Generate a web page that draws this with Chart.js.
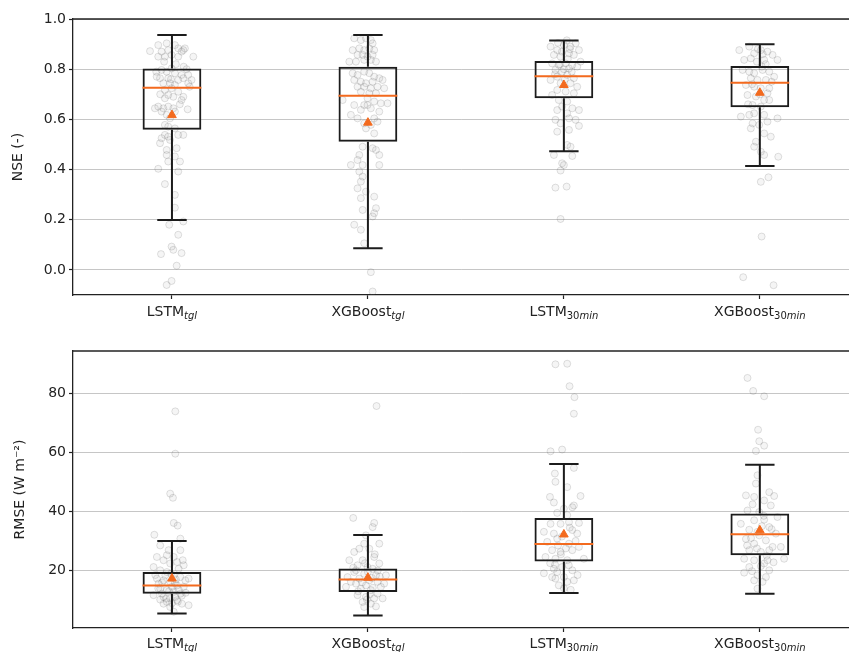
<!DOCTYPE html>
<html><head><meta charset="utf-8">
<script src="https://cdn.jsdelivr.net/npm/chart.js@4"></script>
<style>
html,body{margin:0;padding:0;background:#fff;overflow:hidden;width:849px;height:652px;}
#c1{position:absolute;left:0;top:0;}
#c2{position:absolute;left:0;top:330px;}
</style></head><body>
<canvas id="c1" width="849" height="330"></canvas>
<canvas id="c2" width="849" height="322"></canvas>
<script>
// ---------- categories ----------
const categories = ['LSTM', 'XGBoost', 'LSTM', 'XGBoost'];
const categorySubs = ['tgl', 'tgl', '30min', '30min'];

// ---------- NSE (top panel) ----------
const nseTicks = [0.0, 0.2, 0.4, 0.6, 0.8, 1.0];
const nseWhiskerLow  = [0.199, 0.086, 0.473, 0.414];
const nseQ1          = [0.559, 0.511, 0.684, 0.648];
const nseMedian      = [0.726, 0.694, 0.772, 0.746];
const nseQ3          = [0.803, 0.810, 0.833, 0.813];
const nseWhiskerHigh = [0.936, 0.936, 0.914, 0.899];
const nseMean        = [0.617, 0.587, 0.737, 0.706];

// individual catchment points: [horizontal jitter, value]
const nseLSTMtgl = [[-0.112,0.872],[-0.070,0.896],[-0.053,0.870],[-0.027,0.903],[-0.019,0.876],[0.015,0.896],[0.032,0.883],[0.058,0.876],[0.066,0.883],[0.109,0.850],[-0.070,0.850],[-0.036,0.850],[-0.002,0.857],[0.032,0.850],[0.049,0.870],[-0.053,0.797],[-0.027,0.790],[-0.002,0.803],[0.015,0.784],[0.049,0.777],[0.083,0.777],[-0.078,0.770],[-0.061,0.764],[-0.019,0.764],[0.032,0.757],[0.058,0.764],[0.100,0.757],[-0.044,0.744],[-0.010,0.744],[0.015,0.737],[0.083,0.744],[-0.036,0.717],[-0.002,0.724],[0.032,0.710],[-0.019,0.697],[0.007,0.690],[0.058,0.690],[-0.036,0.684],[0.049,0.677],[-0.070,0.651],[-0.044,0.644],[-0.019,0.651],[0.007,0.644],[-0.087,0.644],[-0.053,0.631],[0.015,0.631],[-0.027,0.618],[-0.010,0.604],[-0.036,0.578],[-0.019,0.571],[0.015,0.564],[-0.036,0.538],[0.032,0.538],[0.058,0.538],[-0.019,0.531],[-0.053,0.525],[-0.061,0.505],[-0.010,0.518],[-0.027,0.478],[0.024,0.485],[-0.027,0.458],[0.015,0.452],[0.041,0.432],[-0.019,0.432],[-0.070,0.403],[0.032,0.392],[-0.036,0.342],[0.015,0.299],[0.015,0.248],[-0.014,0.180],[0.058,0.193],[0.032,0.140],[-0.002,0.093],[-0.056,0.063],[0.007,0.080],[0.049,0.067],[0.024,0.017],[-0.002,-0.044],[-0.027,-0.060],[0.075,0.800],[-0.080,0.790],[0.090,0.730],[-0.060,0.700],[0.040,0.660],[0.080,0.640],[-0.005,0.760],[0.020,0.820],[-0.040,0.830],[0.060,0.810]];
const nseXGBtgl = [[-0.070,0.923],[-0.036,0.916],[-0.010,0.923],[0.015,0.916],[0.024,0.903],[-0.078,0.876],[-0.044,0.883],[-0.019,0.876],[0.007,0.883],[0.032,0.876],[-0.053,0.857],[-0.027,0.857],[-0.002,0.850],[0.024,0.857],[-0.095,0.830],[-0.061,0.830],[-0.019,0.837],[0.015,0.837],[0.041,0.830],[-0.078,0.784],[-0.053,0.777],[-0.019,0.790],[0.007,0.784],[0.032,0.770],[0.058,0.764],[-0.070,0.757],[-0.036,0.750],[-0.010,0.744],[0.024,0.750],[0.075,0.757],[-0.053,0.730],[-0.019,0.730],[0.015,0.724],[0.049,0.730],[0.083,0.724],[-0.036,0.710],[0.007,0.704],[0.041,0.704],[-0.002,0.684],[0.032,0.671],[0.066,0.664],[-0.019,0.657],[-0.002,0.657],[0.100,0.664],[-0.129,0.677],[-0.070,0.657],[0.015,0.644],[0.058,0.631],[-0.036,0.638],[-0.087,0.618],[-0.053,0.604],[0.032,0.604],[-0.019,0.584],[0.015,0.578],[0.049,0.591],[-0.010,0.564],[0.032,0.544],[-0.027,0.491],[0.024,0.485],[0.041,0.478],[-0.044,0.458],[0.058,0.458],[-0.053,0.438],[-0.087,0.418],[-0.027,0.418],[0.058,0.418],[-0.044,0.392],[-0.027,0.372],[-0.036,0.352],[-0.053,0.325],[-0.010,0.312],[-0.036,0.286],[0.032,0.292],[-0.027,0.239],[0.041,0.246],[0.024,0.213],[0.032,0.226],[-0.070,0.180],[-0.036,0.160],[-0.019,0.106],[0.015,-0.009],[0.024,-0.086]];
const nseLSTM30 = [[-0.068,0.890],[-0.034,0.876],[0.000,0.896],[0.034,0.890],[0.060,0.903],[0.077,0.876],[-0.051,0.857],[-0.017,0.850],[0.026,0.863],[0.051,0.857],[-0.060,0.823],[-0.026,0.817],[0.009,0.823],[0.043,0.817],[0.085,0.830],[-0.043,0.797],[-0.009,0.790],[0.026,0.803],[0.068,0.810],[-0.034,0.770],[-0.068,0.757],[0.017,0.777],[0.051,0.764],[-0.017,0.744],[0.034,0.744],[0.068,0.730],[-0.034,0.717],[0.009,0.711],[0.051,0.704],[-0.060,0.697],[-0.026,0.677],[0.017,0.671],[-0.009,0.651],[-0.034,0.637],[0.043,0.644],[0.077,0.637],[0.017,0.624],[-0.043,0.598],[0.026,0.604],[0.060,0.598],[-0.017,0.584],[0.077,0.574],[0.026,0.558],[-0.034,0.551],[0.017,0.498],[0.034,0.491],[-0.051,0.458],[0.043,0.454],[-0.009,0.425],[0.000,0.418],[-0.017,0.396],[-0.043,0.328],[0.014,0.332],[-0.017,0.203],[0.000,0.800],[-0.020,0.820],[0.020,0.840],[-0.045,0.780],[0.040,0.790],[0.005,0.760],[-0.010,0.870],[0.030,0.880],[-0.030,0.905],[0.015,0.915]];
const nseXGB30 = [[-0.105,0.876],[-0.054,0.890],[-0.029,0.863],[0.005,0.876],[0.039,0.870],[-0.080,0.837],[-0.046,0.843],[0.022,0.837],[0.065,0.857],[0.090,0.837],[-0.088,0.797],[-0.054,0.790],[-0.029,0.784],[0.014,0.797],[0.048,0.790],[-0.046,0.764],[-0.012,0.757],[0.031,0.757],[0.073,0.770],[-0.071,0.737],[-0.029,0.730],[0.005,0.724],[0.048,0.724],[-0.063,0.697],[-0.020,0.691],[0.039,0.704],[0.022,0.677],[0.048,0.677],[-0.037,0.657],[0.005,0.651],[-0.097,0.611],[-0.054,0.618],[-0.029,0.624],[0.022,0.618],[0.090,0.604],[-0.037,0.584],[-0.003,0.578],[0.039,0.591],[-0.046,0.564],[0.056,0.531],[0.022,0.544],[-0.020,0.511],[-0.029,0.491],[0.005,0.471],[0.022,0.458],[0.094,0.451],[0.005,0.351],[0.044,0.369],[0.009,0.133],[-0.085,-0.029],[0.070,-0.061],[0.010,0.810],[-0.015,0.830],[0.030,0.820],[-0.040,0.740],[0.060,0.750],[0.000,0.700],[-0.060,0.660],[0.015,0.860],[-0.010,0.880]];

// ---------- RMSE (bottom panel) ----------
const rmseTicks = [20, 40, 60, 80];
const rmseWhiskerLow  = [5.5, 4.8, 12.4, 12.2];
const rmseQ1          = [12.2, 12.8, 23.1, 25.2];
const rmseMedian      = [15.0, 17.0, 29.0, 32.3];
const rmseQ3          = [19.5, 20.7, 37.8, 39.3];
const rmseWhiskerHigh = [30.0, 32.0, 56.0, 55.8];
const rmseMean        = [17.3, 17.6, 32.2, 33.6];

const rmseLSTMtgl = [[0.017,73.8],[0.017,59.5],[-0.009,46.0],[0.005,44.6],[0.009,36.1],[0.029,35.2],[-0.090,32.1],[0.043,30.8],[-0.060,28.5],[-0.017,26.9],[0.043,26.9],[-0.026,25.2],[0.009,24.6],[-0.077,24.6],[-0.043,23.5],[-0.009,22.4],[0.026,22.9],[0.060,21.8],[-0.094,21.2],[-0.060,20.1],[-0.026,19.5],[0.009,18.4],[0.043,17.8],[0.085,17.3],[-0.077,17.3],[-0.043,16.7],[-0.009,16.2],[0.026,15.0],[0.060,14.5],[-0.060,13.9],[-0.026,13.4],[0.009,12.8],[0.043,12.2],[-0.094,11.7],[-0.043,11.1],[-0.009,10.6],[0.026,10.0],[-0.026,9.4],[0.051,8.8],[0.085,8.3],[-0.009,7.7],[-0.043,8.8],[0.009,6.1],[-0.068,15.6],[0.068,16.7],[-0.034,18.4],[0.034,20.6],[0.000,14.5],[-0.051,12.2],[0.017,11.1],[-0.015,13.0],[0.035,13.5],[-0.070,14.0],[0.050,11.5],[-0.030,10.5],[0.000,9.0],[0.070,12.5],[-0.050,16.0],[0.020,17.0],[-0.005,19.0],[0.055,23.5],[-0.085,18.5],[0.030,9.5],[-0.060,10.2],[0.015,15.8]];
const rmseXGBtgl = [[0.044,75.6],[-0.075,37.8],[0.032,36.1],[0.024,34.7],[-0.010,31.9],[0.058,29.1],[-0.019,29.1],[-0.044,27.4],[0.007,27.4],[-0.070,26.3],[0.032,24.6],[-0.095,23.5],[-0.027,23.5],[0.058,22.4],[-0.053,21.8],[-0.002,21.2],[0.024,20.6],[-0.070,19.5],[-0.019,18.9],[0.041,18.4],[0.092,18.4],[-0.104,17.8],[-0.044,17.3],[0.007,16.7],[0.049,16.2],[-0.061,15.6],[-0.010,15.0],[0.083,15.6],[-0.112,14.5],[-0.036,13.9],[0.015,13.4],[0.049,12.2],[-0.053,11.7],[-0.010,11.1],[0.032,10.6],[0.075,10.6],[-0.027,9.4],[0.015,8.8],[0.041,7.9],[-0.019,7.7],[-0.061,20.1],[0.066,14.5],[-0.087,16.2],[0.000,19.5],[0.020,17.5],[-0.030,16.0],[0.050,20.0],[-0.050,13.0],[0.010,12.0],[-0.015,22.5],[0.035,25.5],[-0.075,21.0],[0.025,14.2],[-0.005,10.2],[0.060,18.0]];
const rmseLSTM30 = [[-0.043,89.7],[0.017,89.9],[0.029,82.3],[0.054,78.6],[0.051,73.0],[-0.068,60.3],[-0.009,60.9],[0.051,54.7],[-0.046,52.8],[-0.043,50.0],[0.017,48.2],[-0.071,44.9],[0.085,45.2],[-0.051,43.0],[0.043,41.4],[0.000,40.9],[0.051,42.0],[-0.034,39.5],[0.017,38.7],[-0.068,35.8],[-0.017,35.8],[0.026,36.4],[0.077,36.1],[-0.102,33.1],[-0.051,32.5],[0.043,33.7],[0.068,32.5],[-0.085,29.7],[-0.034,30.8],[0.026,29.1],[0.077,28.0],[-0.060,26.9],[-0.017,26.3],[0.043,26.9],[-0.094,24.6],[-0.043,24.0],[0.017,23.5],[0.102,24.0],[-0.102,19.1],[-0.051,20.6],[-0.009,21.2],[0.043,20.1],[-0.043,17.3],[0.000,17.8],[0.051,16.7],[-0.060,17.8],[-0.026,15.0],[0.017,16.2],[-0.034,19.5],[0.010,27.5],[-0.030,28.5],[0.060,30.0],[-0.010,31.5],[0.030,34.5],[-0.070,22.5],[0.025,21.8],[0.070,18.5],[-0.015,25.5],[0.000,14.0],[0.035,13.5],[-0.045,22.0]];
const rmseXGB30 = [[-0.063,85.1],[-0.034,80.7],[0.022,78.9],[-0.009,67.6],[-0.003,63.7],[0.022,62.2],[-0.020,60.4],[-0.012,52.2],[-0.020,49.4],[0.048,46.5],[0.073,45.2],[-0.071,45.4],[-0.029,44.9],[0.022,43.7],[-0.037,42.4],[0.056,42.0],[-0.063,40.3],[-0.003,39.8],[0.090,38.1],[-0.029,37.0],[0.022,37.2],[-0.097,35.8],[0.048,34.7],[-0.054,33.8],[-0.012,33.1],[0.082,32.5],[-0.071,30.7],[0.031,30.2],[-0.029,29.1],[0.065,28.0],[0.107,28.0],[-0.054,26.9],[0.005,26.3],[0.048,26.9],[0.124,24.0],[-0.080,24.0],[-0.029,23.5],[0.022,22.4],[-0.054,21.2],[0.048,20.1],[-0.080,19.3],[-0.012,18.4],[0.031,17.8],[-0.029,16.7],[0.014,16.2],[-0.012,13.9],[0.039,23.5],[-0.003,31.9],[0.010,35.0],[-0.045,31.0],[0.060,34.0],[-0.015,27.5],[0.035,25.0],[-0.065,28.5],[0.005,21.5],[-0.040,19.8],[0.070,22.8],[0.020,38.5]];

// ---------- styling constants ----------
const BOX_WIDTH = 0.3;      // fraction of category spacing
const CAP_WIDTH = 0.15;
const ORANGE = '#f36a1e';
const DARK = '#1c1c1c';
const FONT = '"DejaVu Sans", "Liberation Sans", sans-serif';

function labelPlugin(offsetY) {
  return {
    id: 'catLabels',
    afterDraw(chart) {
      const {ctx, chartArea, scales: {x}} = chart;
      const base = chartArea.bottom + offsetY;
      ctx.save();
      ctx.fillStyle = '#222';
      ctx.textBaseline = 'alphabetic';
      ctx.textAlign = 'left';
      categories.forEach((name, i) => {
        const px = x.getPixelForValue(i);
        ctx.font = '14px ' + FONT;
        const w1 = ctx.measureText(name).width;
        const runs = categorySubs[i].match(/\d+|[^\d]+/g);
        let w2 = 0;
        runs.forEach(r => {
          ctx.font = (/\d/.test(r) ? '' : 'italic ') + '10px ' + FONT;
          w2 += ctx.measureText(r).width;
        });
        let cx = px - (w1 + w2) / 2;
        ctx.font = '14px ' + FONT;
        ctx.fillText(name, cx, base);
        cx += w1;
        runs.forEach(r => {
          ctx.font = (/\d/.test(r) ? '' : 'italic ') + '10px ' + FONT;
          ctx.fillText(r, cx, base + 3);
          cx += ctx.measureText(r).width;
        });
      });
      // top frame line
      ctx.strokeStyle = '#222';
      ctx.lineWidth = 1.3;
      ctx.beginPath();
      ctx.moveTo(chartArea.left, chartArea.top);
      ctx.lineTo(chart.width, chartArea.top);
      ctx.stroke();
      ctx.restore();
    }
  };
}

function makeChart(id, s) {
  const pts = [];
  s.points.forEach((grp, i) => grp.forEach(([j, v]) => pts.push({x: i + j, y: v})));
  const whisk = [], caps = [], meds = [];
  categories.forEach((_, i) => {
    whisk.push({x: i, y: s.low[i]}, {x: i, y: s.q1[i]}, {x: i, y: null},
               {x: i, y: s.q3[i]}, {x: i, y: s.high[i]}, {x: i, y: null});
    caps.push({x: i - CAP_WIDTH / 2, y: s.low[i]}, {x: i + CAP_WIDTH / 2, y: s.low[i]}, {x: i, y: null},
              {x: i - CAP_WIDTH / 2, y: s.high[i]}, {x: i + CAP_WIDTH / 2, y: s.high[i]}, {x: i, y: null});
    meds.push({x: i - BOX_WIDTH / 2, y: s.med[i]}, {x: i + BOX_WIDTH / 2, y: s.med[i]}, {x: i, y: null});
  });
  const lineDs = (data, color, w, order) => ({
    type: 'line', data, borderColor: color, borderWidth: w, pointRadius: 0,
    spanGaps: false, fill: false, tension: 0, order, borderCapStyle: 'butt'
  });
  const datasets = [
    {type: 'scatter', data: pts, pointRadius: 3.5, pointHoverRadius: 3.5,
     backgroundColor: 'rgba(120,120,120,0.07)', borderColor: 'rgba(90,90,90,0.18)', borderWidth: 1, order: 6},
    {type: 'bar', data: s.q1.map((q, i) => ({x: i, y: [q, s.q3[i]]})),
     backgroundColor: 'rgba(0,0,0,0)', borderColor: DARK, borderWidth: 2, borderSkipped: false,
     barPercentage: BOX_WIDTH, categoryPercentage: 1, order: 4},
    lineDs(whisk, DARK, 2, 4),
    lineDs(caps, DARK, 2, 4),
    lineDs(meds, ORANGE, 2, 2),
    {type: 'scatter', data: s.mean.map((m, i) => ({x: i, y: m})), pointStyle: 'triangle',
     pointRadius: 5, pointHoverRadius: 5, backgroundColor: ORANGE, borderColor: ORANGE, borderWidth: 1, order: 1}
  ];
  return new Chart(document.getElementById(id), {
    type: 'scatter',
    data: {datasets},
    options: {
      responsive: false, animation: false, devicePixelRatio: 1, events: [],
      layout: {autoPadding: false, padding: {top: s.padTop, left: 0, right: 0, bottom: 0}},
      plugins: {legend: {display: false}, tooltip: {enabled: false}},
      scales: {
        x: {
          type: 'linear', min: -0.505, max: 3.455, offset: false,
          afterBuildTicks: ax => { ax.ticks = categories.map((_, i) => ({value: i})); },
          ticks: {autoSkip: false, callback: () => '', font: {family: FONT, size: 14}},
          grid: {offset: false, drawOnChartArea: false, drawTicks: true, tickLength: 4, tickColor: '#222', tickWidth: 1.2},
          border: {display: true, color: '#222', width: 1.3},
          afterFit: ax => { ax.height = s.xAxisH; ax.paddingRight = 0; ax.paddingLeft = 0; }
        },
        y: {
          type: 'linear', min: s.yMin, max: s.yMax,
          afterBuildTicks: ax => { ax.ticks = s.ticks.map(v => ({value: v})); },
          ticks: {callback: s.fmt, font: {family: FONT, size: 14}, color: '#222', padding: 3},
          grid: {color: '#c6c6c6', lineWidth: 1, drawTicks: true, tickLength: 4, tickColor: '#222', tickWidth: 1.2},
          border: {display: true, color: '#222', width: 1.3},
          title: {display: true, text: s.title, font: {family: FONT, size: 14}, color: '#222', padding: {top: s.titlePad, bottom: 0}},
          afterFit: ax => { ax.width = 73; }
        }
      }
    },
    plugins: [labelPlugin(s.labelOffset)]
  });
}

makeChart('c1', {
  points: [nseLSTMtgl, nseXGBtgl, nseLSTM30, nseXGB30],
  low: nseWhiskerLow, q1: nseQ1, med: nseMedian, q3: nseQ3, high: nseWhiskerHigh, mean: nseMean,
  ticks: nseTicks, fmt: v => v.toFixed(1), yMin: -0.1, yMax: 1.0,
  title: 'NSE (-)', titlePad: 10, padTop: 19, xAxisH: 35, labelOffset: 21
});
makeChart('c2', {
  points: [rmseLSTMtgl, rmseXGBtgl, rmseLSTM30, rmseXGB30],
  low: rmseWhiskerLow, q1: rmseQ1, med: rmseMedian, q3: rmseQ3, high: rmseWhiskerHigh, mean: rmseMean,
  ticks: rmseTicks, fmt: v => String(v), yMin: 0.6, yMax: 94.2,
  title: 'RMSE (W m\u207B\u00B2)', titlePad: 12, padTop: 21, xAxisH: 24, labelOffset: 20
});
</script>
</body></html>
